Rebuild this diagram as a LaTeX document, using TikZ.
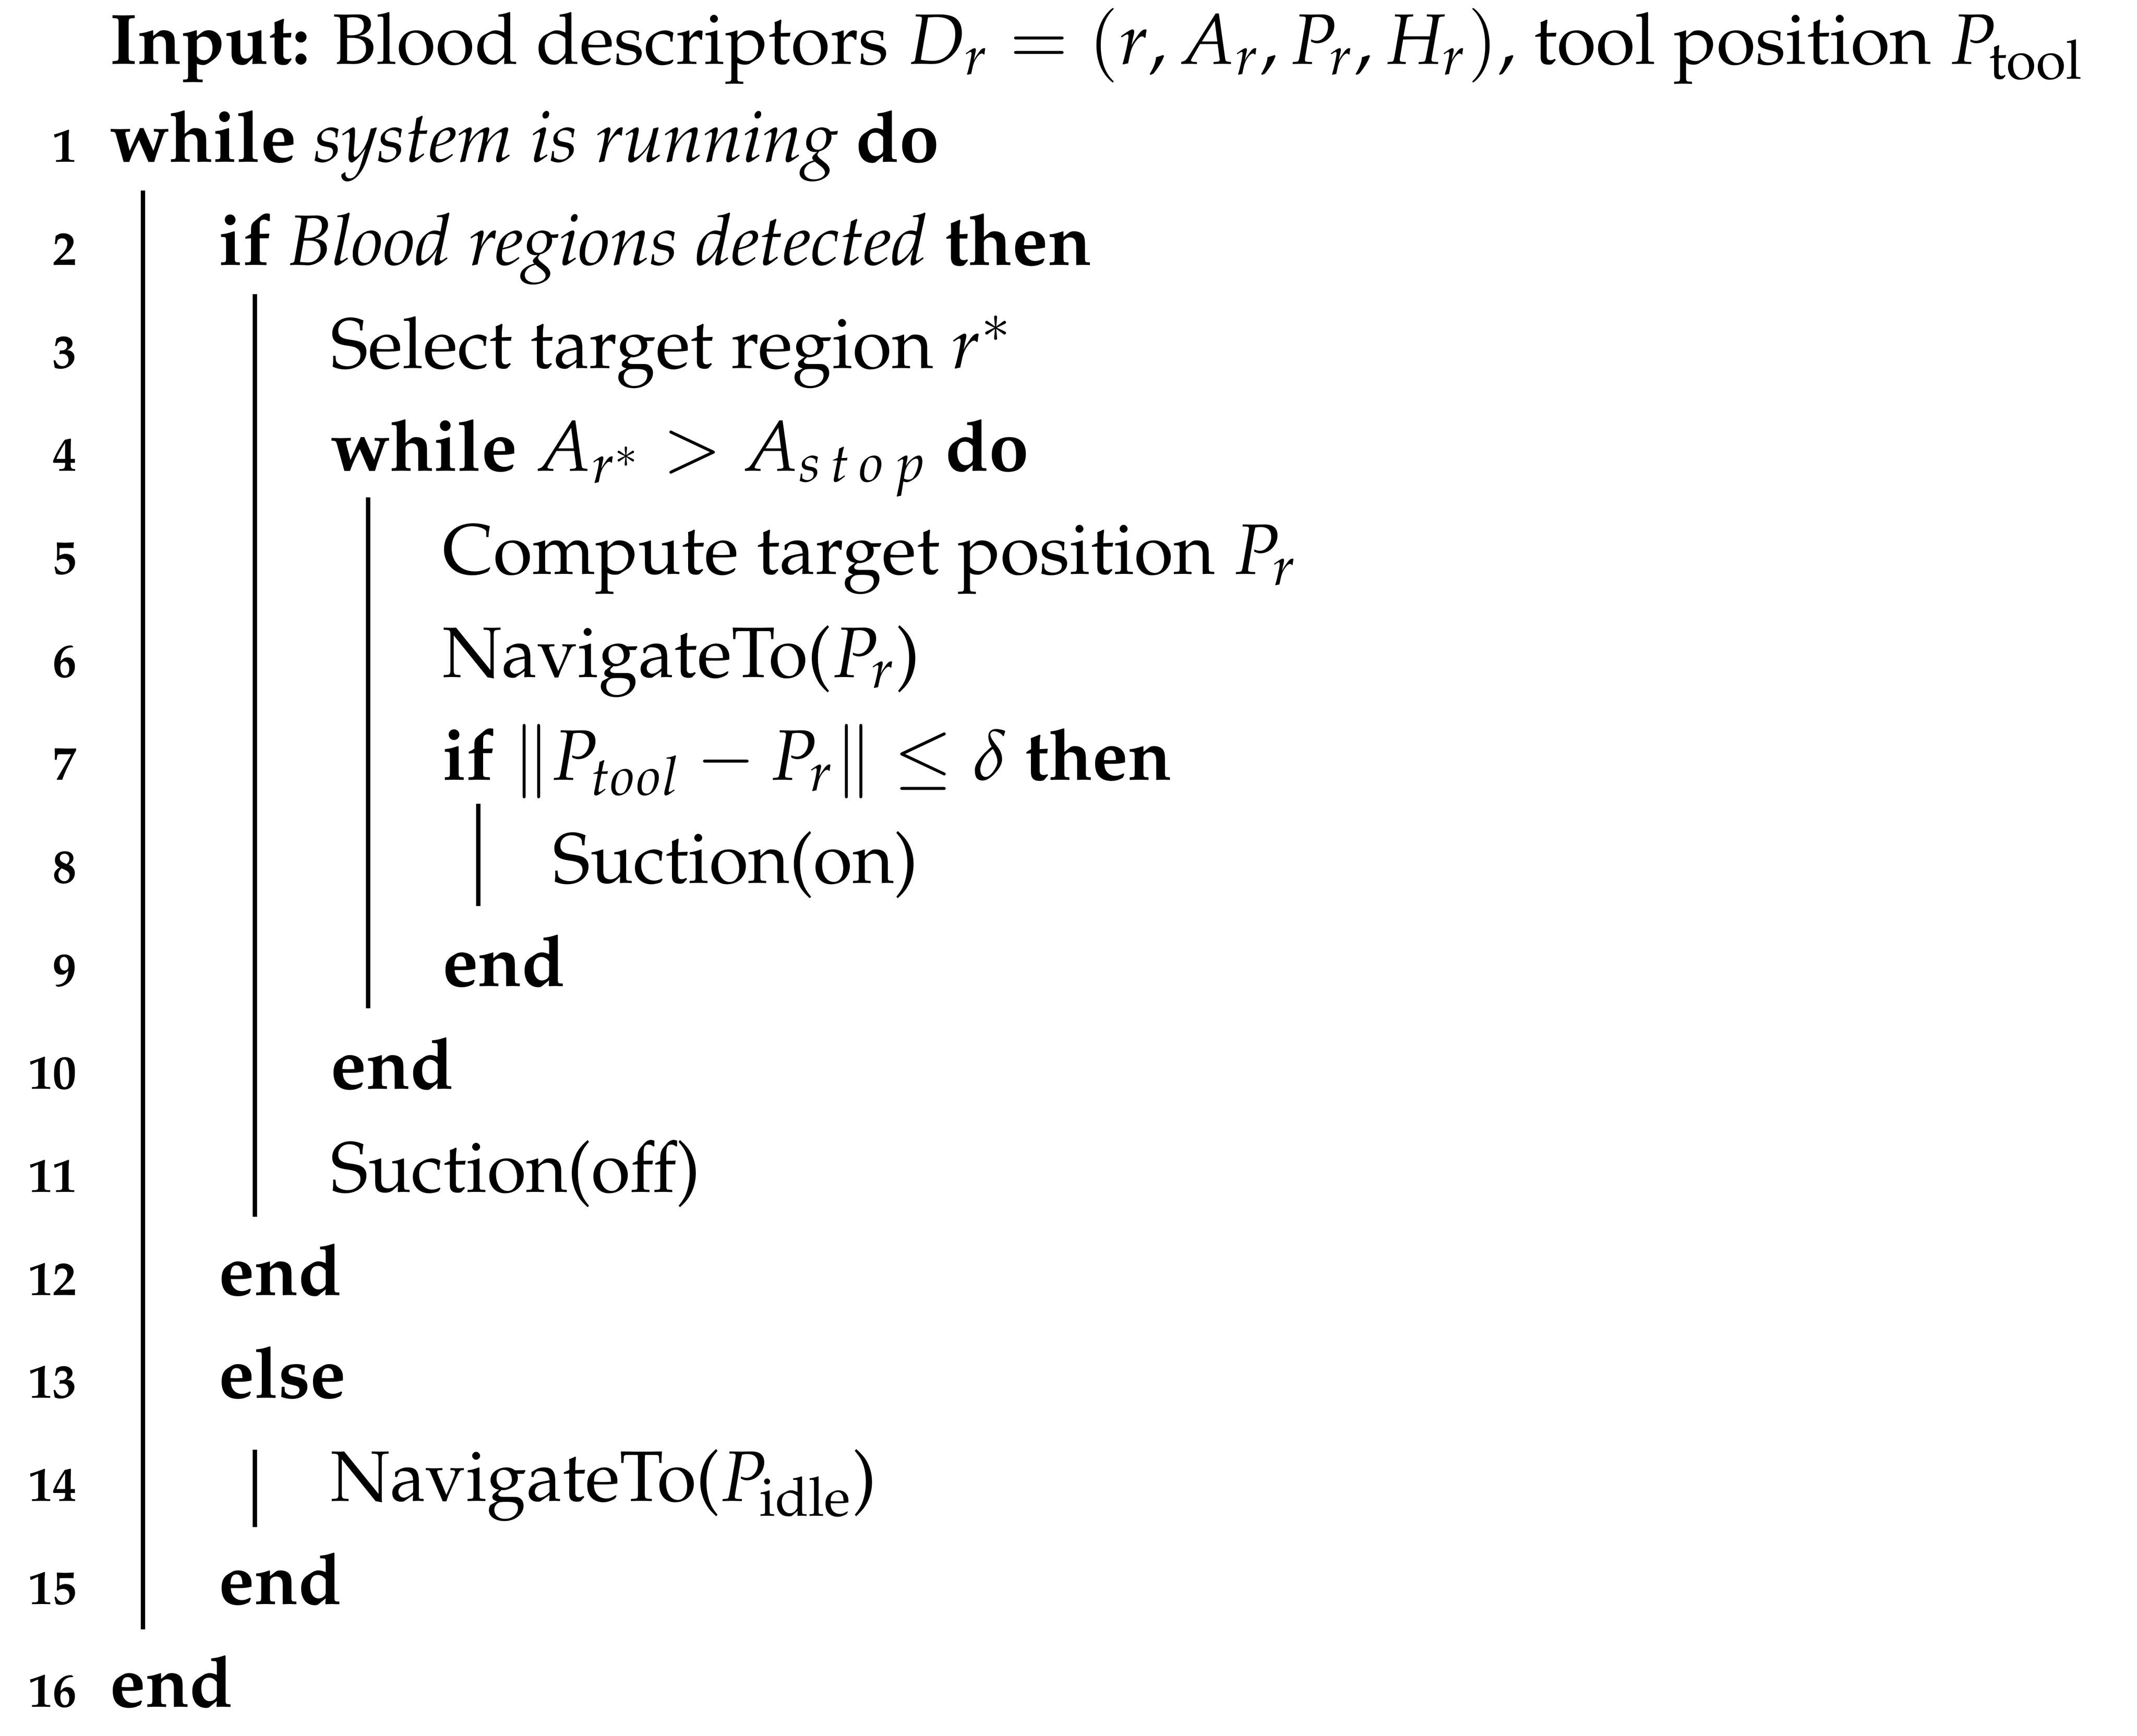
\documentclass[tikz,border=0pt]{standalone}
\usepackage[T1]{fontenc}
\usepackage{mathpazo}
\begin{document}
\begin{tikzpicture}[x=0.01cm,y=-0.01cm,
  ln/.style={anchor=base east,inner sep=0pt,font=\fontsize{10}{12}\selectfont\bfseries},
  tx/.style={anchor=base west,inner sep=0pt,font=\fontsize{14.9}{17}\selectfont},
  bar/.style={line width=0.9pt}]
\useasboundingbox (0,0) rectangle (1568,1274);
\node[tx] (in) at (80,47) {\textbf{Input:} Blood descriptors $D_r=(r,A_r,P_r,H_r)$, tool position $P_{\mathrm{tool}}$};
\foreach \k in {1,...,16}{ \node[ln] (n\k) at (57,{119+(\k-1)*75.6}) {\k}; }
\node[tx] (l1) at (80,119) {\textbf{while} \textit{system is running} \textbf{do}};
\node[tx] (l2) at (160,194.6) {\textbf{if} \textit{Blood regions detected} \textbf{then}};
\node[tx] (l3) at (242,270.2) {Select target region $r^*$};
\node[tx] (l4) at (242,345.8) {\textbf{while} $A_{r^*}>A_{s\,t\,o\,p}$ \textbf{do}};
\node[tx] (l5) at (324,421.4) {Compute target position $P_r$};
\node[tx] (l6) at (324,497) {NavigateTo($P_r$)};
\node[tx] (l7) at (324,572.6) {\textbf{if} $\|P_{tool}-P_r\|\le\delta$ \textbf{then}};
\node[tx] (l8) at (405,648.2) {Suction(on)};
\node[tx] (l9) at (324,723.8) {\textbf{end}};
\node[tx] (l10) at (242,799.4) {\textbf{end}};
\node[tx] (l11) at (242,875) {Suction(off)};
\node[tx] (l12) at (160,950.6) {\textbf{end}};
\node[tx] (l13) at (160,1026.2) {\textbf{else}};
\node[tx] (l14) at (242,1101.8) {NavigateTo($P_{\mathrm{idle}}$)};
\node[tx] (l15) at (160,1177.4) {\textbf{end}};
\node[tx] (l16) at (80,1253) {\textbf{end}};
\coordinate (a1) at (105,140); \coordinate (b1) at (105,1196);
\coordinate (a2) at (187,216); \coordinate (b2) at (187,893);
\coordinate (a3) at (270,365); \coordinate (b3) at (270,740);
\coordinate (a4) at (351,590); \coordinate (b4) at (351,665);
\coordinate (a5) at (187,1064); \coordinate (b5) at (187,1121);
\foreach \i in {1,...,5}{ \draw[bar] (a\i) -- (b\i); }
\end{tikzpicture}
\end{document}
